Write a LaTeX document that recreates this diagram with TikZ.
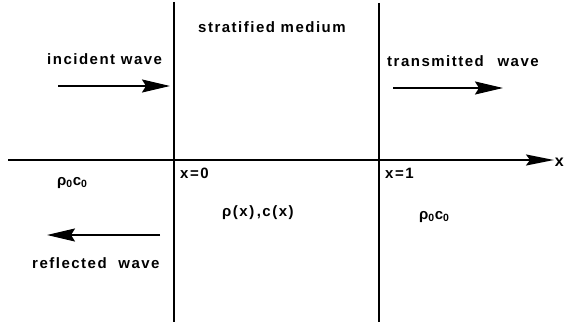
\documentclass[tikz,border=0pt]{standalone}
\usepackage{fontspec}
\setmainfont{Liberation Sans}[BoldFont={Liberation Sans Bold}]
\usetikzlibrary{arrows.meta}
\tikzset{
  lbl/.style={font=\fontsize{15}{17}\selectfont\bfseries\addfontfeature{LetterSpace=10}, inner sep=0pt, anchor=base west},
  wall/.style={line width=1.5pt},
  axisline/.style={line width=1.8pt, -{Stealth[length=28pt,width=11pt,inset=4pt]}},
  wavearrow/.style={line width=2pt, -{Stealth[length=28pt,width=13pt,inset=4pt]}},
}
\begin{document}
\begin{tikzpicture}[x=1pt,y=-1pt]
\useasboundingbox (0,0) rectangle (564,326);
% walls
\coordinate (w1t) at (174,2);
\coordinate (w1b) at (174,322);
\coordinate (w2t) at (379,3);
\coordinate (w2b) at (379,322);
\draw[wall] (w1t) -- (w1b);
\draw[wall] (w2t) -- (w2b);
% axis
\coordinate (ax0) at (8,160);
\node[font=\fontsize{16}{18}\selectfont\bfseries, inner sep=0pt, anchor=east] (xlab) at (564,162) {x};
\coordinate (ax1) at (554,160);
\draw[axisline] (ax0) -- (ax1);
% wave arrows
\coordinate (ia) at (58,86);
\coordinate (ib) at (170,86);
\draw[wavearrow] (ia) -- (ib);
\coordinate (ta) at (393,88);
\coordinate (tb) at (503,88);
\draw[wavearrow] (ta) -- (tb);
\coordinate (ra) at (160,235);
\coordinate (rb) at (47,235);
\draw[wavearrow] (ra) -- (rb);
% labels
\node[lbl] (strat) at (198,33) {stratified medium};
\node[lbl] (inc) at (47,65) {incident wave};
\node[lbl] (trans) at (387,67) {transmitted\hspace{8pt} wave};
\node[lbl] (rhoL) at (57,185) {ρ\textsubscript{0}c\textsubscript{0}};
\node[lbl] (x0) at (180,178) {x=0};
\node[lbl] (rhox) at (222,216) {ρ(x)\,,c(x)};
\node[lbl] (x1) at (385,178) {x=1};
\node[lbl] (rhoR) at (419,219) {ρ\textsubscript{0}c\textsubscript{0}};
\node[lbl] (refl) at (32,268) {reflected\hspace{6pt} wave};
\end{tikzpicture}
\end{document}
